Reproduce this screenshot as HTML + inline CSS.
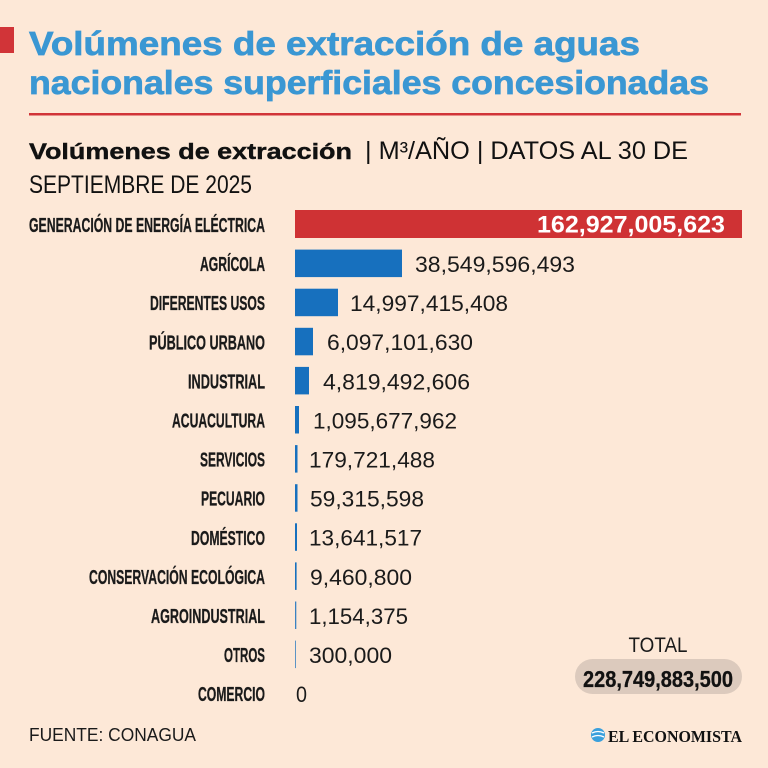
<!DOCTYPE html>
<html>
<head>
<meta charset="utf-8">
<style>
  html,body{margin:0;padding:0;background:#fde8d7;}
  svg{display:block;}
  .sans{font-family:"Liberation Sans",sans-serif;}
  .serif{font-family:"Liberation Serif",serif;}
</style>
</head>
<body>
<svg width="768" height="768" viewBox="0 0 768 768" xmlns="http://www.w3.org/2000/svg" class="sans">
  <rect x="0" y="0" width="768" height="768" fill="#fde8d7"/>

  <!-- Title -->
  <rect x="0" y="27" width="14" height="26" fill="#d13438"/>
  <text class="sans" x="29" y="55" font-size="33" font-weight="bold" fill="#3a97d3" stroke="#3a97d3" stroke-width="0.7" textLength="611" lengthAdjust="spacingAndGlyphs">Volúmenes de extracción de aguas</text>
  <text class="sans" x="29" y="94" font-size="33" font-weight="bold" fill="#3a97d3" stroke="#3a97d3" stroke-width="0.7" textLength="680" lengthAdjust="spacingAndGlyphs">nacionales superficiales concesionadas</text>
  <rect x="29" y="113" width="712" height="2.5" fill="#d13438"/>

  <!-- Subtitle -->
  <text class="sans" x="29" y="159" font-size="22" font-weight="bold" fill="#111" stroke="#111" stroke-width="0.4" textLength="323" lengthAdjust="spacingAndGlyphs">Volúmenes de extracción</text>
  <text class="sans" x="365" y="159" font-size="25" fill="#111" textLength="323" lengthAdjust="spacingAndGlyphs">| M³/AÑO | DATOS AL 30 DE</text>
  <text class="sans" x="29" y="193" font-size="25" fill="#111" textLength="223" lengthAdjust="spacingAndGlyphs">SEPTIEMBRE DE 2025</text>

  <!-- Labels -->
  <g class="sans" font-size="20.5" font-weight="bold" fill="#1a1a1a" stroke="#1a1a1a" stroke-width="0.3" text-anchor="end">
    <text x="265" y="232" textLength="236" lengthAdjust="spacingAndGlyphs">GENERACIÓN DE ENERGÍA ELÉCTRICA</text>
    <text x="265" y="271.1" textLength="65" lengthAdjust="spacingAndGlyphs">AGRÍCOLA</text>
    <text x="265" y="310.2" textLength="115" lengthAdjust="spacingAndGlyphs">DIFERENTES USOS</text>
    <text x="265" y="349.3" textLength="116" lengthAdjust="spacingAndGlyphs">PÚBLICO URBANO</text>
    <text x="265" y="388.4" textLength="77" lengthAdjust="spacingAndGlyphs">INDUSTRIAL</text>
    <text x="265" y="427.5" textLength="93" lengthAdjust="spacingAndGlyphs">ACUACULTURA</text>
    <text x="265" y="466.6" textLength="65" lengthAdjust="spacingAndGlyphs">SERVICIOS</text>
    <text x="265" y="505.7" textLength="64" lengthAdjust="spacingAndGlyphs">PECUARIO</text>
    <text x="265" y="544.8" textLength="74" lengthAdjust="spacingAndGlyphs">DOMÉSTICO</text>
    <text x="265" y="583.9" textLength="176" lengthAdjust="spacingAndGlyphs">CONSERVACIÓN ECOLÓGICA</text>
    <text x="265" y="623" textLength="114" lengthAdjust="spacingAndGlyphs">AGROINDUSTRIAL</text>
    <text x="265" y="662.1" textLength="41" lengthAdjust="spacingAndGlyphs">OTROS</text>
    <text x="265" y="701.2" textLength="67" lengthAdjust="spacingAndGlyphs">COMERCIO</text>
  </g>

  <!-- Bars -->
  <rect x="295" y="210" width="447" height="28" fill="#cf3234"/>
  <g fill="#1770be">
    <rect x="295" y="249.6" width="107" height="27.5"/>
    <rect x="295" y="288.7" width="43" height="27.5"/>
    <rect x="295" y="327.8" width="18" height="27.5"/>
    <rect x="295" y="366.9" width="14" height="27.5"/>
    <rect x="295" y="406" width="4" height="27.5"/>
    <rect x="295" y="445.1" width="2.5" height="27.5"/>
    <rect x="295" y="484.2" width="2.5" height="27.5"/>
    <rect x="295" y="523.3" width="2" height="27.5"/>
    <rect x="295" y="562.4" width="1.6" height="27.5"/>
    <rect x="295" y="601.5" width="1.3" height="27.5" opacity="0.85"/>
    <rect x="295" y="640.6" width="1" height="27.5" opacity="0.7"/>
  </g>

  <!-- Values -->
  <text class="sans" x="725" y="232.5" font-size="24" font-weight="bold" fill="#fff" text-anchor="end" textLength="188" lengthAdjust="spacingAndGlyphs">162,927,005,623</text>
  <g class="sans" font-size="22" fill="#1a1a1a">
    <text x="415" y="272" textLength="160" lengthAdjust="spacingAndGlyphs">38,549,596,493</text>
    <text x="350" y="311.1" textLength="158" lengthAdjust="spacingAndGlyphs">14,997,415,408</text>
    <text x="327" y="350.2" textLength="146" lengthAdjust="spacingAndGlyphs">6,097,101,630</text>
    <text x="323" y="389.3" textLength="147" lengthAdjust="spacingAndGlyphs">4,819,492,606</text>
    <text x="313" y="428.4" textLength="144" lengthAdjust="spacingAndGlyphs">1,095,677,962</text>
    <text x="309" y="467.5" textLength="126" lengthAdjust="spacingAndGlyphs">179,721,488</text>
    <text x="310" y="506.6" textLength="114" lengthAdjust="spacingAndGlyphs">59,315,598</text>
    <text x="309" y="545.7" textLength="113" lengthAdjust="spacingAndGlyphs">13,641,517</text>
    <text x="310" y="584.8" textLength="102" lengthAdjust="spacingAndGlyphs">9,460,800</text>
    <text x="309" y="623.9" textLength="99" lengthAdjust="spacingAndGlyphs">1,154,375</text>
    <text x="309" y="663" textLength="83" lengthAdjust="spacingAndGlyphs">300,000</text>
    <text x="296" y="702.1" textLength="11" lengthAdjust="spacingAndGlyphs">0</text>
  </g>

  <!-- Total -->
  <text class="sans" x="658" y="652" font-size="21" fill="#1a1a1a" text-anchor="middle" textLength="59" lengthAdjust="spacingAndGlyphs">TOTAL</text>
  <rect x="575" y="659" width="167" height="35" rx="17.5" ry="17.5" fill="#dccabd"/>
  <text class="sans" x="658" y="687" font-size="23" font-weight="bold" fill="#111" stroke="#111" stroke-width="0.3" text-anchor="middle" textLength="150" lengthAdjust="spacingAndGlyphs">228,749,883,500</text>

  <!-- Footer -->
  <text class="sans" x="29" y="741" font-size="18" fill="#1a1a1a" textLength="167" lengthAdjust="spacingAndGlyphs">FUENTE: CONAGUA</text>
  <circle cx="598" cy="735" r="7" fill="#3aa0dc"/>
  <path d="M592 733 q6 -3 12 0" stroke="#fff" stroke-width="1.3" fill="none"/>
  <path d="M592 737 q6 -3 12 0" stroke="#fff" stroke-width="1.3" fill="none"/>
  <text class="serif" style="font-family:'Liberation Serif',serif" x="608" y="742" font-size="17" font-weight="bold" fill="#111" textLength="134" lengthAdjust="spacingAndGlyphs">EL ECONOMISTA</text>
</svg>
</body>
</html>
